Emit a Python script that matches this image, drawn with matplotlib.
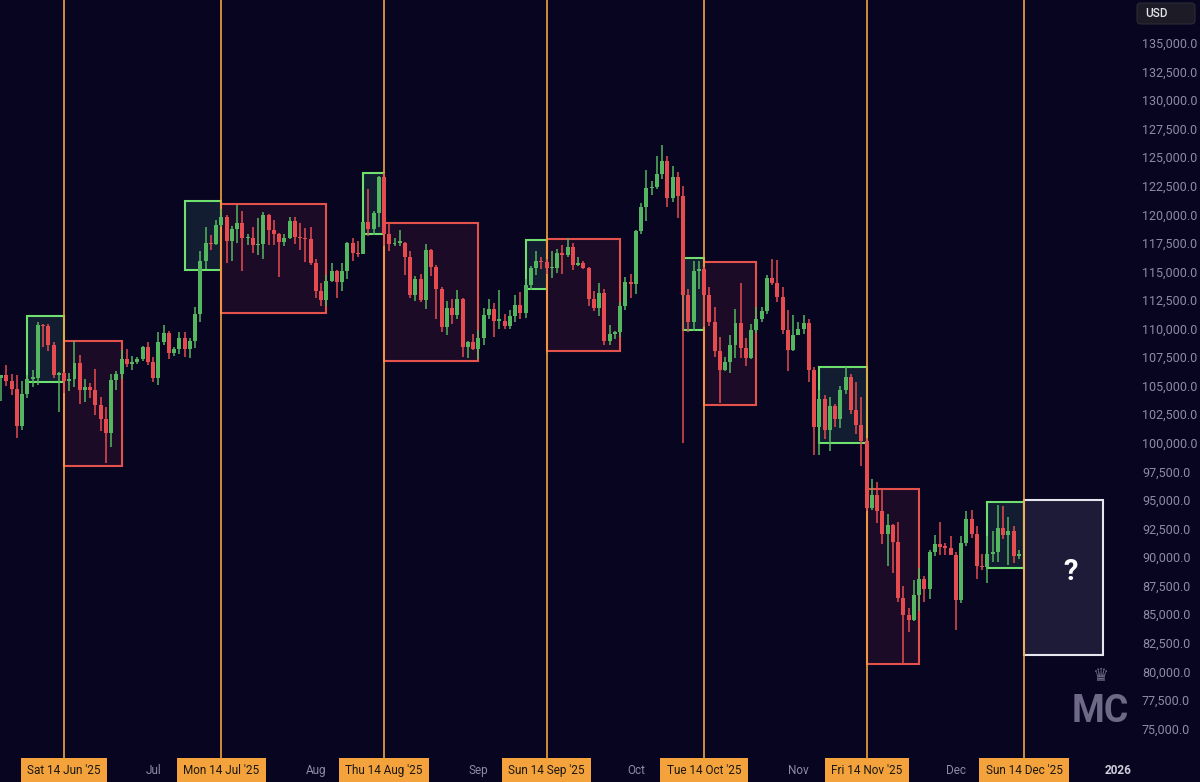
import numpy as np
import pandas as pd
import matplotlib

matplotlib.use("Agg")
import matplotlib.pyplot as plt
import matplotlib.dates as mdates
import matplotlib.transforms as mtransforms
from matplotlib.patches import Rectangle, FancyBboxPatch

plt.rcParams["font.family"] = ["Roboto", "DejaVu Sans"]

BG = "#07051f"
GREEN = "#55b661"
RED = "#e64b50"
ORANGE = "#f4a33c"
AXIS_TXT = "#8e8ba6"

# daily candles, thousands of USD, 1 Jun 2025 -> 13 Dec 2025
first_open = 104.6
closes = [
    105.7, 105.9, 105.4, 104.7, 101.5, 104.3, 105.6, 105.7, 110.3, 110.2, 108.6, 105.9, 106.1, 105.4, 105.6,
    107.0, 104.6, 104.9, 104.6, 103.3, 102.1, 100.9, 105.5, 106.0, 107.3, 106.9, 107.1, 107.3, 108.4, 107.1,
    105.7, 108.8, 109.6, 107.9, 108.2, 109.2, 108.2, 108.9, 111.3, 115.9, 117.5, 117.4, 119.1, 119.8, 117.7,
    118.7, 119.2, 117.9, 117.9, 117.3, 117.4, 119.9, 118.6, 118.3, 117.6, 117.9, 119.4, 118.0, 117.9, 117.8, 115.7,
    113.3, 112.5, 114.2, 115.0, 114.1, 115.0, 117.5, 116.6, 116.5, 119.3, 118.7, 120.1, 123.3, 118.3, 117.4,
    117.5, 117.5, 116.3, 112.9, 114.3, 112.5, 116.9, 115.4, 113.5, 110.1, 111.8, 111.2, 112.6, 108.4, 108.8, 108.2,
    109.2, 111.2, 111.7, 110.7, 110.7, 110.2, 111.1, 112.1, 111.4, 113.8, 115.3, 115.9, 115.8, 115.3, 115.3,
    116.6, 116.4, 117.1, 115.6, 115.7, 115.3, 112.6, 111.8, 113.1, 108.9, 109.5, 109.7, 112.0, 114.1, 113.9,
    118.5, 120.6, 122.3, 122.4, 123.5, 124.7, 121.4, 123.3, 121.6, 112.9, 110.6, 115.0, 115.2, 112.9, 110.6,
    108.0, 106.4, 107.1, 108.6, 110.5, 108.3, 107.4, 109.9, 110.8, 111.5, 114.4, 114.0, 112.8, 109.9, 108.1, 109.4,
    110.0, 110.5, 106.4, 101.4, 103.8, 101.1, 103.2, 102.1, 104.6, 105.8, 102.9, 101.6, 100.2, 94.3, 95.4,
    94.0, 92.0, 92.8, 91.3, 86.4, 84.9, 84.5, 86.7, 88.1, 87.2, 90.4, 91.1, 90.9, 90.8, 90.2,
    86.2, 91.2, 93.3, 92.0, 89.2, 89.1, 90.3, 90.4, 92.5, 91.9, 92.3, 90.1, 90.2,
]
highs = [
    105.9, 105.9, 106.8, 106.0, 105.9, 105.4, 105.9, 106.4, 110.6, 110.4, 110.4, 108.8, 106.2, 106.2, 106.1,
    108.9, 107.7, 105.6, 105.2, 106.5, 104.0, 103.1, 106.0, 106.3, 108.1, 108.2, 107.6, 107.5, 108.5, 108.8,
    107.5, 109.7, 110.3, 109.8, 108.4, 109.7, 109.7, 109.2, 111.9, 116.8, 118.9, 118.2, 119.5, 120.5, 119.9,
    119.0, 120.8, 120.3, 118.3, 118.9, 119.7, 120.2, 120.0, 119.5, 118.4, 118.3, 119.8, 119.8, 119.2, 118.8, 118.9,
    116.1, 114.0, 114.7, 115.7, 115.1, 115.7, 117.6, 117.9, 117.7, 119.3, 122.2, 120.3, 123.4, 123.6, 119.2,
    117.9, 118.6, 117.6, 116.8, 114.6, 114.8, 117.4, 117.0, 115.6, 113.6, 112.4, 112.6, 113.4, 112.7, 108.9, 109.5,
    109.9, 111.8, 112.6, 112.2, 113.4, 111.3, 111.6, 112.9, 113.2, 114.3, 115.5, 116.8, 116.3, 116.1, 116.8,
    117.0, 117.3, 117.9, 117.5, 116.3, 115.9, 115.4, 113.3, 114.0, 113.5, 110.3, 109.8, 112.3, 114.5, 114.8,
    118.6, 121.0, 123.9, 122.9, 125.1, 126.1, 125.1, 124.2, 123.7, 122.5, 113.5, 115.9, 115.9, 115.4, 113.6,
    111.9, 109.3, 107.5, 109.4, 111.7, 114.0, 109.2, 110.4, 111.9, 111.9, 114.7, 116.1, 116.0, 113.6, 111.6, 111.2,
    110.6, 111.2, 110.8, 106.6, 104.6, 104.2, 104.0, 103.4, 105.0, 106.6, 106.0, 105.3, 104.0, 100.4, 96.8,
    96.6, 95.9, 93.8, 92.9, 93.1, 87.5, 85.5, 88.0, 89.0, 88.3, 90.6, 91.9, 93.1, 91.2, 91.8,
    90.4, 91.8, 94.0, 94.1, 92.7, 90.3, 91.8, 92.3, 94.6, 94.5, 93.5, 92.7, 90.6,
]
lows = [
    103.9, 103.7, 105.0, 104.2, 100.4, 101.1, 103.9, 104.9, 105.1, 108.4, 108.0, 105.7, 102.7, 104.4, 104.5,
    104.9, 103.4, 103.6, 103.9, 102.4, 101.0, 98.2, 99.6, 104.6, 105.6, 106.6, 106.4, 106.9, 107.2, 106.8,
    105.3, 105.1, 108.6, 107.3, 107.6, 107.8, 107.5, 107.4, 108.3, 110.6, 115.2, 116.9, 117.3, 118.9, 115.7,
    115.9, 117.5, 115.0, 117.3, 116.6, 116.4, 116.1, 117.3, 117.3, 114.5, 117.2, 117.8, 117.4, 116.9, 115.8, 115.6,
    112.7, 112.0, 112.0, 114.1, 112.7, 113.3, 114.3, 115.9, 116.3, 116.5, 118.1, 118.2, 118.9, 117.2, 116.8,
    117.2, 117.2, 114.7, 112.7, 112.4, 112.3, 111.7, 114.6, 110.8, 109.7, 109.4, 110.4, 110.8, 107.5, 107.4, 108.1,
    107.3, 108.6, 110.8, 109.3, 110.0, 110.0, 110.0, 110.6, 110.8, 110.9, 113.4, 114.7, 115.2, 114.8, 114.4,
    114.9, 114.8, 116.3, 115.1, 115.5, 115.2, 112.0, 111.5, 111.1, 108.6, 108.6, 109.1, 109.3, 111.6, 112.7,
    113.0, 118.3, 119.4, 121.7, 122.2, 123.1, 120.6, 121.1, 119.7, 100.0, 109.7, 109.8, 113.5, 110.1, 110.2,
    107.5, 103.5, 106.3, 106.1, 107.4, 107.4, 106.7, 107.3, 109.6, 110.6, 111.3, 113.8, 112.3, 109.5, 106.3, 108.0,
    109.4, 109.5, 105.3, 98.9, 98.9, 100.3, 99.3, 101.4, 101.3, 104.3, 102.5, 100.8, 98.0, 94.0, 94.1,
    93.0, 91.1, 89.2, 88.6, 86.1, 80.6, 83.4, 84.4, 85.3, 86.1, 86.3, 90.1, 90.2, 90.2, 90.2,
    83.6, 86.0, 91.0, 91.7, 88.1, 88.9, 87.7, 89.6, 89.6, 91.6, 89.3, 89.5, 89.8,
]
opens = [first_open] + closes[:-1]

# hand drawn boxes: start, end, low, high (thousands)
green_boxes = [
    ("2025-06-07", "2025-06-14", 105.3, 111.1),
    ("2025-07-07", "2025-07-14", 115.1, 121.2),
    ("2025-08-10", "2025-08-14", 118.3, 123.6),
    ("2025-09-10", "2025-09-14", 113.5, 117.75),
    ("2025-10-10", "2025-10-14", 109.9, 116.2),
    ("2025-11-05", "2025-11-14", 100.0, 106.6),
    ("2025-12-07", "2025-12-14", 89.0, 94.8),
]
red_boxes = [
    ("2025-06-14", "2025-06-25", 98.0, 108.9),
    ("2025-07-14", "2025-08-03", 111.4, 120.9),
    ("2025-08-14", "2025-09-01", 107.2, 119.2),
    ("2025-09-14", "2025-09-28", 108.0, 117.8),
    ("2025-10-14", "2025-10-24", 103.3, 115.8),
    ("2025-11-14", "2025-11-24", 80.6, 96.0),
]
next_box = ("2025-12-14", "2025-12-29", 81.4, 95.0)

marker_days = ["2025-06-14", "2025-07-14", "2025-08-14", "2025-09-14",
               "2025-10-14", "2025-11-14", "2025-12-14"]
month_ticks = ["2025-07-01", "2025-08-01", "2025-09-01", "2025-10-01",
               "2025-11-01", "2025-12-01", "2026-01-01"]
month_labels = ["Jul", "Aug", "Sep", "Oct", "Nov", "Dec", "2026"]
price_ticks = np.arange(75000, 135001, 2500)

dates = pd.date_range("2025-06-01", periods=len(closes), freq="D")
x = mdates.date2num(dates)
o = np.array(opens) * 1000
h = np.array(highs) * 1000
l = np.array(lows) * 1000
c = np.array(closes) * 1000


def dn(s):
    return mdates.date2num(pd.Timestamp(s))


fig = plt.figure(figsize=(12, 7.82), dpi=100, facecolor=BG)
ax = fig.add_axes([0, 30 / 782, 1130 / 1200, 752 / 782])
ax.set_facecolor(BG)

# boxes
for s, e, lo, hi in green_boxes:
    ax.add_patch(Rectangle((dn(s), lo * 1000), dn(e) - dn(s), (hi - lo) * 1000,
                           facecolor="#121d31", edgecolor="#6fe06f", lw=1.5, zorder=2))
for s, e, lo, hi in red_boxes:
    ax.add_patch(Rectangle((dn(s), lo * 1000), dn(e) - dn(s), (hi - lo) * 1000,
                           facecolor="#1b0b26", edgecolor="#e5524c", lw=1.5, zorder=2))
s, e, lo, hi = next_box
ax.add_patch(Rectangle((dn(s), lo * 1000), dn(e) - dn(s), (hi - lo) * 1000,
                       facecolor="#1e1b38", edgecolor="#e6e6ee", lw=1.5, zorder=2))
ax.text(dn("2025-12-22") + 0.8, 88700, "?", color="white", fontsize=21,
        fontweight="bold", ha="center", va="center", zorder=6)

# 14th-of-month lines + labels
blend = mtransforms.blended_transform_factory(ax.transData, ax.transAxes)
for d in marker_days:
    ax.axvline(dn(d), ymin=-0.01, ymax=1, color=ORANGE, lw=1.2, zorder=2.5, clip_on=False)
    ax.text(dn(d), -0.025, pd.Timestamp(d).strftime("%a %d %b '%y"), transform=blend,
            ha="center", va="center", fontsize=8.5, color="#1a1712",
            bbox=dict(boxstyle="square,pad=0.55", fc=ORANGE, ec="none"), clip_on=False)

for d, lab in zip(month_ticks, month_labels):
    last = lab == "2026"
    ax.text(dn(d), -0.025, lab, transform=blend, ha="center", va="center",
            fontsize=8.5, color="#cfcddb" if last else AXIS_TXT,
            fontweight="bold" if last else "normal", clip_on=False)

# candles
up = c >= o
col = np.where(up, GREEN, RED)
ax.vlines(x, l, h, colors=col, lw=1.1, zorder=3)
ax.bar(x, np.maximum(np.abs(c - o), 130), width=0.76, bottom=np.minimum(o, c),
       color=col, linewidth=0, zorder=4)

ax.set_xlim(dn("2025-06-01") + 0.8, dn("2025-06-01") + 216.2)
ax.set_ylim(72934, 138764)
ax.set_xticks([])
ax.yaxis.tick_right()
ax.set_yticks(price_ticks)
ax.set_yticklabels([f"{v:,.1f}" for v in price_ticks])
ax.tick_params(axis="y", length=0, pad=8.6, labelsize=9, labelcolor=AXIS_TXT)
for sp in ax.spines.values():
    sp.set_visible(False)

# USD tag top right
ident = mtransforms.IdentityTransform()
fig.patches.append(FancyBboxPatch((1137, 782 - 24), 58, 21,
                                  boxstyle="round,pad=0,rounding_size=4",
                                  fc="#1c1b26", ec="#2c2b38", lw=0.8, transform=ident))
fig.text(1145 / 1200, 1 - 13.5 / 782, "USD", color="#e2e2ea", fontsize=8.5,
         fontweight="medium", ha="left", va="center")

# watermark
fig.text(1100 / 1200, 1 - 676 / 782, "\u265B", color="#6d6987", fontsize=13,
         ha="center", va="center", family=["DejaVu Sans"])
fig.text(1100 / 1200, 1 - 712 / 782, "MC", color="#6d6987", fontsize=27,
         fontweight="bold", ha="center", va="center", fontstretch="condensed")

fig.savefig("out.png", dpi=100, facecolor=BG)
